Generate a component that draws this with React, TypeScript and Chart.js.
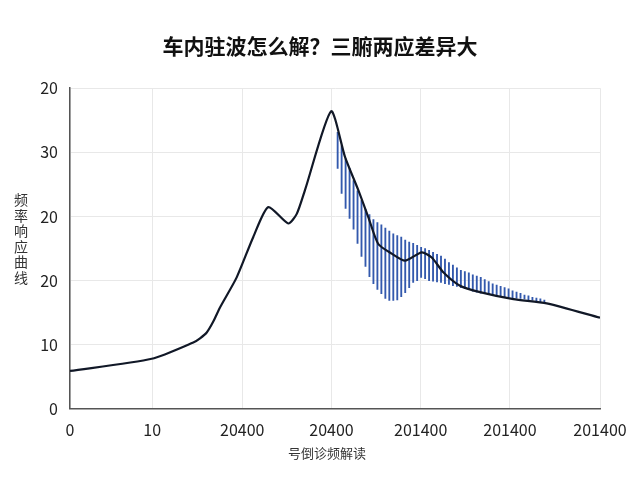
import { useEffect, useRef } from "react"
import { Chart, registerables, type ChartConfiguration, type Plugin } from "chart.js"

Chart.register(...registerables)

const chartTitle = "车内驻波怎么解？三腑两应差异大"
const yAxisTitle = "频率响应曲线"
const xAxisTitle = "号倒诊频解读"

// axis ticks (values on the scale + the labels printed there)
const xTickValues = [0, 93, 195, 296, 397, 498, 600]
const xTickLabels = ["0", "10", "20400", "20400", "201400", "201400", "201400"]
const yTickLabels = ["0", "10", "20", "20", "30", "20"]

// main response curve
const curveX = [0, 92.5, 139.6, 147.2, 154.8, 162.2, 169.8, 188.7, 207.5, 224.5, 247.1, 256.7, 266, 295.5, 311.3, 326.4, 337.7, 349, 364.2, 379.3, 398.2, 409.5, 422.6, 441.5, 464.2, 502, 539.7, 600]
const curveY = [5.9, 7.8, 10.35, 11.0, 11.9, 13.6, 15.8, 20.5, 26.8, 31.45, 28.9, 30.4, 34.1, 46.4, 39.3, 34.1, 29.9, 25.7, 24.2, 23.1, 24.4, 23.6, 21.3, 19.2, 18.2, 17.1, 16.45, 14.2]

// hatched spread after the peak
const spreadX = [303, 307.5, 312, 316.5, 321, 325.5, 330, 334.5, 339, 343.5, 348, 352.5, 357, 361.5, 366, 370.5, 375, 379.5, 384, 388.5, 393, 397.5, 402, 406.5, 411, 415.5, 420, 424.5, 429, 433.5, 438, 442.5, 447, 451.5, 456, 460.5, 465, 469.5, 474, 478.5, 483, 487.5, 492, 496.5, 501, 505.5, 510, 514.5, 519, 523.5, 528, 532.5, 537]
const spreadLow = [37.5, 33.6, 31.25, 29.7, 28.0, 25.8, 23.75, 22.2, 20.6, 19.5, 18.6, 17.95, 17.2, 16.9, 16.9, 17.0, 17.5, 18.1, 18.9, 19.7, 20.0, 20.5, 20.3, 20.0, 19.9, 19.8, 19.7, 19.5, 19.4, 19.2, 19.1, 18.9, 18.75, 18.6, 18.35, 18.2, 18.05, 17.95, 17.8, 17.7, 17.65, 17.55, 17.5, 17.4, 17.35, 17.25, 17.2, 17.15, 17.0, 16.95, 16.8, 16.7, 16.65]
const spreadHigh = [43.1, 41.0, 39.0, 37.5, 35.6, 34.0, 32.5, 31.1, 30.3, 29.5, 29.05, 28.7, 28.2, 27.7, 27.3, 27.0, 26.8, 26.3, 26.0, 25.8, 25.5, 25.2, 25.0, 24.7, 24.4, 24.1, 23.8, 23.35, 22.8, 22.4, 22.0, 21.6, 21.4, 21.2, 20.9, 20.7, 20.5, 20.15, 19.85, 19.5, 19.3, 19.1, 18.9, 18.7, 18.4, 18.2, 18.0, 17.75, 17.6, 17.4, 17.25, 17.15, 16.95]

const FONT = "'Noto Sans CJK SC', 'Noto Sans', sans-serif"

// axis titles: upright stacked y title, x title under the tick labels
const axisTitles: Plugin<"line"> = {
  id: "axisTitles",
  afterDraw(chart) {
    const { ctx, chartArea } = chart
    ctx.save()
    ctx.fillStyle = "#333"
    ctx.textAlign = "center"
    ctx.textBaseline = "middle"

    ctx.font = `14px ${FONT}`
    const step = 15.5
    const chars = Array.from(yAxisTitle)
    let y = (chartArea.top + chartArea.bottom) / 2 - 10 - ((chars.length - 1) * step) / 2
    chars.forEach((c) => {
      ctx.fillText(c, 21, y)
      y += step
    })

    ctx.font = `13px ${FONT}`
    ctx.fillText(xAxisTitle, (chartArea.left + chartArea.right) / 2 - 8, chartArea.bottom + 44)
    ctx.restore()
  },
}

export default function App() {
  const canvasRef = useRef<HTMLCanvasElement>(null)

  useEffect(() => {
    if (!canvasRef.current) return
    const ctx = canvasRef.current.getContext("2d")
    if (!ctx) return

    const config: ChartConfiguration<"line"> = {
      type: "line",
      data: {
        datasets: [
          {
            label: "curve",
            data: curveX.map((x, i) => ({ x, y: curveY[i] })),
            borderColor: "#111827",
            borderWidth: 2.2,
            pointRadius: 0,
            tension: 0.22,
            order: 0,
          },
          {
            type: "bar",
            label: "spread",
            data: spreadX.map((x, i) => ({ x, y: [spreadLow[i], spreadHigh[i]] })) as any,
            backgroundColor: "#3359ad",
            barThickness: 1.2,
            order: 1,
          } as any,
        ],
      },
      options: {
        responsive: false,
        animation: false,
        layout: { padding: { left: 0, right: 0, top: 0, bottom: 28 } },
        plugins: {
          legend: { display: false },
          tooltip: { enabled: false },
          title: {
            display: true,
            text: chartTitle,
            color: "#111",
            font: { family: FONT, size: 21, weight: "bold" },
            padding: { top: 33, bottom: 30 },
          },
        },
        scales: {
          x: {
            type: "linear",
            min: 0,
            max: 600,
            offset: false,
            afterBuildTicks: (scale) => {
              scale.ticks = xTickValues.map((value) => ({ value }))
            },
            afterFit: (scale: any) => {
              scale.paddingRight = 40
            },
            ticks: {
              color: "#222",
              font: { family: FONT, size: 16 },
              padding: 12,
              maxRotation: 0,
              autoSkip: false,
              callback: (_v, i) => xTickLabels[i],
            },
            grid: { color: "#e8e8e8", drawTicks: false, offset: false },
            border: { color: "#555", width: 1.5 },
          },
          y: {
            min: 0,
            max: 50,
            afterFit: (scale) => {
              scale.width = 70
            },
            ticks: {
              stepSize: 10,
              color: "#222",
              font: { family: FONT, size: 16 },
              padding: 12,
              callback: (_v, i) => yTickLabels[i],
            },
            grid: { color: "#e8e8e8", drawTicks: false },
            border: { color: "#555", width: 1.5 },
          },
        },
      },
      plugins: [axisTitles],
    }

    const chart = new Chart(ctx, config)
    return () => chart.destroy()
  }, [])

  return (
    <div style={{ position: "absolute", left: 0, top: 0, width: 640, height: 480, background: "#fff" }}>
      <canvas ref={canvasRef} width={640} height={480} />
    </div>
  )
}
